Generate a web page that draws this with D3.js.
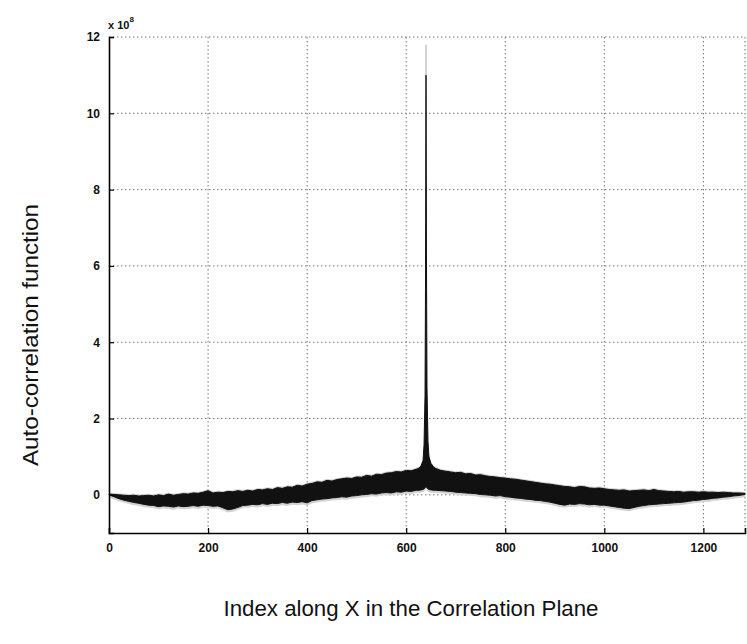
<!DOCTYPE html>
<html>
<head>
<meta charset="utf-8">
<script src="https://cdn.jsdelivr.net/npm/d3@7"></script>
<style>
  body { margin: 0; background: #fff; }
  text { font-family: "Liberation Sans", Arial, sans-serif; }
</style>
</head>
<body>
<script>
// band of the correlation signal (units of 1e8)
var xs = [0, 10, 20, 30, 40, 50, 60, 70, 80, 90, 100, 110, 120, 130, 140, 150, 160, 170, 180, 190,
    200, 210, 220, 230, 240, 250, 260, 270, 280, 290, 300, 310, 320, 330, 340, 350, 360, 370, 380, 390,
    400, 410, 420, 430, 440, 450, 460, 470, 480, 490, 500, 510, 520, 530, 540, 550, 560, 570, 580, 590,
    600, 610, 620,
    660, 670, 680, 690, 700, 710, 720, 730, 740, 750, 760, 770, 780, 790, 800, 810, 820, 830, 840, 850,
    860, 870, 880, 890, 900, 910, 920, 930, 940, 950, 960, 970, 980, 990, 1000, 1010, 1020, 1030, 1040, 1050,
    1060, 1070, 1080, 1090, 1100, 1110, 1120, 1130, 1140, 1150, 1160, 1170, 1180, 1190, 1200, 1210, 1220, 1230, 1240, 1250,
    1260, 1270, 1284];
var upper = [0.02, 0.01, 0.00, -0.01, -0.02, -0.01, -0.03, -0.02, -0.01, -0.03, 0.00, -0.02, 0.02, -0.01, 0.01, 0.03, 0.02, 0.05, 0.04, 0.07,
    0.11, 0.05, 0.07, 0.06, 0.09, 0.08, 0.11, 0.09, 0.12, 0.10, 0.14, 0.13, 0.16, 0.14, 0.19, 0.17, 0.21, 0.20, 0.25, 0.23,
    0.28, 0.30, 0.34, 0.33, 0.38, 0.36, 0.40, 0.42, 0.44, 0.43, 0.47, 0.46, 0.51, 0.49, 0.54, 0.53, 0.57, 0.58, 0.61, 0.60,
    0.64, 0.63, 0.67,
    0.69, 0.64, 0.62, 0.60, 0.58, 0.59, 0.55, 0.56, 0.52, 0.53, 0.50, 0.48, 0.47, 0.45, 0.44, 0.42, 0.41, 0.39, 0.37, 0.35,
    0.33, 0.31, 0.29, 0.28, 0.26, 0.24, 0.22, 0.21, 0.19, 0.22, 0.21, 0.18, 0.17, 0.18, 0.16, 0.14, 0.13, 0.12, 0.13, 0.10,
    0.11, 0.12, 0.13, 0.11, 0.14, 0.11, 0.10, 0.09, 0.08, 0.09, 0.07, 0.08, 0.08, 0.07, 0.08, 0.07, 0.07, 0.06, 0.07, 0.06,
    0.05, 0.05, 0.04];
var lower = [0.00, -0.05, -0.10, -0.14, -0.17, -0.20, -0.22, -0.25, -0.27, -0.28, -0.31, -0.29, -0.30, -0.32, -0.29, -0.31, -0.30, -0.28, -0.30, -0.27,
    -0.28, -0.30, -0.29, -0.34, -0.39, -0.37, -0.33, -0.28, -0.27, -0.25, -0.26, -0.23, -0.25, -0.22, -0.23, -0.20, -0.22, -0.19, -0.20, -0.18,
    -0.21, -0.15, -0.13, -0.11, -0.10, -0.08, -0.07, -0.05, -0.06, -0.03, -0.02, 0.00, 0.01, 0.03, 0.02, 0.05, 0.06, 0.05, 0.08, 0.07,
    0.10, 0.09, 0.12,
    0.12, 0.11, 0.10, 0.09, 0.07, 0.06, 0.05, 0.04, 0.03, 0.01, 0.00, -0.01, -0.03, -0.02, -0.05, -0.06, -0.08, -0.09, -0.11, -0.12,
    -0.14, -0.15, -0.17, -0.19, -0.22, -0.25, -0.27, -0.24, -0.25, -0.23, -0.24, -0.26, -0.25, -0.27, -0.27, -0.29, -0.31, -0.33, -0.35, -0.36,
    -0.33, -0.30, -0.28, -0.26, -0.25, -0.24, -0.23, -0.22, -0.21, -0.20, -0.19, -0.17, -0.15, -0.14, -0.12, -0.11, -0.09, -0.08, -0.06, -0.05,
    -0.03, -0.02, 0.01];

// the central peak
var spikeX = [626, 630, 634, 636, 638, 639, 640, 641, 642, 644, 646, 650, 656];
var spikeHi = [0.70, 0.76, 0.9, 1.3, 2.6, 5.5, 11.0, 6.0, 2.8, 1.4, 1.0, 0.82, 0.72];
var spikeLo = [0.12, 0.13, 0.14, 0.16, 0.18, 0.2, 0.22, 0.2, 0.18, 0.16, 0.14, 0.13, 0.12];
// faint trace above the peak tip
var tipFaint = [11.0, 11.8];

var xTicks = [0, 200, 400, 600, 800, 1000, 1200];
var yTicks = [0, 2, 4, 6, 8, 10, 12];

var W = 747, H = 644;
var mLeft = 109, mRight = 745, mTop = 37, mBottom = 533;

var svg = d3.select("body").append("svg")
    .attr("width", W)
    .attr("height", H);

var x = d3.scaleLinear().domain([0, 1284]).range([mLeft, mRight]);
var y = d3.scaleLinear().domain([-1, 12]).range([mBottom, mTop]);

// merge band + spike
var pts = [];
xs.forEach(function(v, i) { pts.push({x: v, hi: upper[i], lo: lower[i]}); });
spikeX.forEach(function(v, i) { pts.push({x: v, hi: spikeHi[i], lo: spikeLo[i]}); });
pts.sort(function(a, b) { return a.x - b.x; });

// grid
svg.append("g").selectAll("line")
    .data(xTicks.slice(1).concat([1284]))
    .enter().append("line")
    .attr("x1", function(d) { return x(d); })
    .attr("x2", function(d) { return x(d); })
    .attr("y1", mTop).attr("y2", mBottom)
    .attr("stroke", "#777").attr("stroke-width", 1)
    .attr("stroke-dasharray", "1.5,2.5");

svg.append("g").selectAll("line")
    .data(yTicks)
    .enter().append("line")
    .attr("x1", mLeft).attr("x2", mRight)
    .attr("y1", function(d) { return y(d); })
    .attr("y2", function(d) { return y(d); })
    .attr("stroke", "#777").attr("stroke-width", 1)
    .attr("stroke-dasharray", "1.5,2.5");

// faint halo around the band
var halo = d3.area()
    .x(function(d) { return x(d.x); })
    .y0(function(d) { return y(d.lo - 0.07); })
    .y1(function(d) { return y(d.hi + 0.04); });
svg.append("path").datum(pts)
    .attr("d", halo)
    .attr("fill", "#d2d2d2");

svg.append("line")
    .attr("x1", x(640)).attr("x2", x(640))
    .attr("y1", y(tipFaint[0])).attr("y2", y(tipFaint[1]))
    .attr("stroke", "#aaa").attr("stroke-width", 1);

var band = d3.area()
    .x(function(d) { return x(d.x); })
    .y0(function(d) { return y(d.lo); })
    .y1(function(d) { return y(d.hi); });
svg.append("path").datum(pts)
    .attr("d", band)
    .attr("fill", "#111")
    .attr("stroke", "#111")
    .attr("stroke-width", 1);

// axes (MATLAB style, ticks inward)
var xAxis = d3.axisBottom(x).tickValues(xTicks).tickFormat(d3.format("d")).tickSize(-5).tickPadding(10);
var yAxis = d3.axisLeft(y).tickValues(yTicks).tickFormat(d3.format("d")).tickSize(-5).tickPadding(9);

var gx = svg.append("g").attr("transform", "translate(0," + mBottom + ")").call(xAxis);
var gy = svg.append("g").attr("transform", "translate(" + mLeft + ",0)").call(yAxis);

[gx, gy].forEach(function(g) {
    g.select(".domain").attr("stroke", "#000").attr("stroke-width", 1.6);
    g.selectAll(".tick line").attr("stroke", "#000").attr("stroke-width", 1.2);
    g.selectAll(".tick text")
        .attr("font-family", "'Liberation Sans', Arial, sans-serif")
        .attr("font-size", 12)
        .attr("font-weight", "bold")
        .attr("fill", "#111");
});

// exponent label
var ex = svg.append("text")
    .attr("x", 108).attr("y", 29)
    .attr("font-size", 11).attr("font-weight", "bold").attr("fill", "#111");
ex.append("tspan").text("x 10");
ex.append("tspan").attr("dy", -7).attr("font-size", 8).text("8");

// axis titles
svg.append("text")
    .attr("transform", "translate(38,335) rotate(-90)")
    .attr("text-anchor", "middle")
    .attr("font-size", 22)
    .attr("fill", "#111")
    .attr("textLength", 262)
    .attr("lengthAdjust", "spacingAndGlyphs")
    .text("Auto-correlation function");

svg.append("text")
    .attr("x", 411).attr("y", 616)
    .attr("text-anchor", "middle")
    .attr("font-size", 22)
    .attr("fill", "#111")
    .attr("textLength", 375)
    .attr("lengthAdjust", "spacingAndGlyphs")
    .text("Index along X in the Correlation Plane");
</script>
</body>
</html>
